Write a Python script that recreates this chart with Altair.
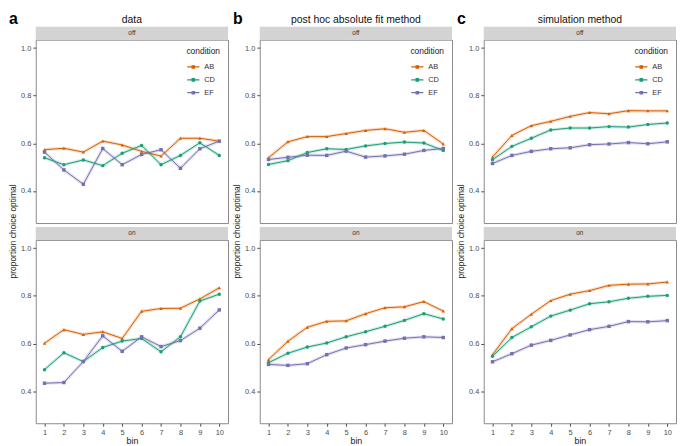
import altair as alt
import pandas as pd

bins = [1, 2, 3, 4, 5, 6, 7, 8, 9, 10]
conditions = ["AB", "CD", "EF"]
colors = ["#D95F02", "#1B9E77", "#7570B3"]
shapes = ["triangle-up", "circle", "square"]

column_titles = ["data", "post hoc absolute fit method", "simulation method"]
panel_letters = ["a", "b", "c"]
strip_labels = ["off", "on"]
y_title = "proportion choice optimal"
x_title = "bin"

# data (a)
data_off_AB = [0.573, 0.579, 0.563, 0.609, 0.593, 0.566, 0.546, 0.621, 0.621, 0.609]
data_off_CD = [0.539, 0.510, 0.530, 0.506, 0.558, 0.591, 0.510, 0.549, 0.602, 0.549]
data_off_EF = [0.563, 0.488, 0.428, 0.578, 0.510, 0.553, 0.573, 0.495, 0.577, 0.609]
data_on_AB = [0.601, 0.658, 0.638, 0.649, 0.621, 0.735, 0.747, 0.748, 0.787, 0.834]
data_on_CD = [0.490, 0.561, 0.524, 0.583, 0.610, 0.621, 0.565, 0.628, 0.778, 0.807]
data_on_EF = [0.433, 0.436, 0.524, 0.632, 0.567, 0.628, 0.587, 0.612, 0.664, 0.741]

# post hoc absolute fit method (b)
posthoc_off_AB = [0.539, 0.606, 0.628, 0.628, 0.641, 0.654, 0.661, 0.646, 0.654, 0.597]
posthoc_off_CD = [0.511, 0.527, 0.561, 0.577, 0.574, 0.589, 0.599, 0.605, 0.601, 0.570]
posthoc_off_EF = [0.532, 0.541, 0.550, 0.549, 0.567, 0.542, 0.547, 0.554, 0.570, 0.578]
posthoc_on_AB = [0.532, 0.609, 0.668, 0.693, 0.695, 0.725, 0.750, 0.754, 0.776, 0.736]
posthoc_on_CD = [0.519, 0.559, 0.585, 0.602, 0.628, 0.649, 0.672, 0.697, 0.725, 0.703]
posthoc_on_EF = [0.512, 0.508, 0.515, 0.553, 0.581, 0.595, 0.610, 0.622, 0.628, 0.625]

# simulation method (c)
sim_off_AB = [0.542, 0.633, 0.674, 0.692, 0.713, 0.729, 0.724, 0.737, 0.736, 0.736]
sim_off_CD = [0.531, 0.587, 0.621, 0.656, 0.664, 0.664, 0.670, 0.668, 0.679, 0.685]
sim_off_EF = [0.515, 0.549, 0.566, 0.577, 0.581, 0.594, 0.597, 0.603, 0.598, 0.606]
sim_on_AB = [0.553, 0.662, 0.723, 0.780, 0.807, 0.822, 0.844, 0.849, 0.850, 0.858]
sim_on_CD = [0.546, 0.625, 0.670, 0.715, 0.740, 0.767, 0.775, 0.790, 0.798, 0.802]
sim_on_EF = [0.523, 0.557, 0.593, 0.613, 0.636, 0.658, 0.672, 0.692, 0.691, 0.696]

columns = [
    ([data_off_AB, data_off_CD, data_off_EF], [data_on_AB, data_on_CD, data_on_EF]),
    ([posthoc_off_AB, posthoc_off_CD, posthoc_off_EF], [posthoc_on_AB, posthoc_on_CD, posthoc_on_EF]),
    ([sim_off_AB, sim_off_CD, sim_off_EF], [sim_on_AB, sim_on_CD, sim_on_EF]),
]

W = 194
H = 185
STRIP = 13
VGAP = 17
LEFT = 27
HGAP = 30
FONT = "Liberation Sans"


def make_df(series):
    rows = []
    for cond, vals in zip(conditions, series):
        for b, v in zip(bins, vals):
            rows.append({"bin": b, "value": v, "condition": cond})
    return pd.DataFrame(rows)


def panel(series, label, top, idx):
    df = make_df(series)
    base = alt.Chart(df)
    if not top:
        xaxis = alt.Axis(values=bins, title=x_title, grid=False, domain=False,
                         tickSize=3, labelFontSize=7.5, labelPadding=2,
                         titleFontSize=9, titleFontWeight="normal", titlePadding=1)
    else:
        xaxis = None
    x = alt.X("bin:Q", scale=alt.Scale(domain=[0.55, 10.45], nice=False, zero=False), axis=xaxis)
    y = alt.Y("value:Q", scale=alt.Scale(domain=[0.265, 1.035], nice=False, zero=False),
              axis=alt.Axis(values=[0.4, 0.6, 0.8, 1.0], format=".1f", title=None, grid=False,
                            domain=False, tickSize=3, labelFontSize=7.5, labelPadding=2))
    if top:
        legend = alt.Legend(title="condition", orient="top-right", offset=5,
                            symbolType="M-1,0H1M-0.2,-0.2H0.2V0.2H-0.2Z",
                            symbolSize=150, symbolStrokeWidth=1.2, symbolOpacity=1,
                            titleFontSize=8.5, titleFontWeight="normal", titleColor="#222",
                            labelFontSize=7.5, labelColor="#333", rowPadding=2,
                            padding=2)
    else:
        legend = None
    color = alt.Color("condition:N", scale=alt.Scale(domain=conditions, range=colors), legend=legend)

    line = base.mark_line(strokeWidth=1).encode(x=x, y=y, color=color)
    halo = base.mark_line(strokeWidth=3.2, opacity=0.22).encode(x=x, y=y, color=color)
    pts = [
        base.transform_filter(alt.datum.condition == c).mark_point(
            filled=True, size=12, opacity=1, shape=s).encode(x=x, y=y, color=color)
        for c, s in zip(conditions, shapes)
    ]

    sdf = pd.DataFrame({"label": [label]})
    strip = alt.Chart(sdf).mark_rect(color="#d3d3d3").encode(
        x=alt.value(0), x2=alt.value(W), y=alt.value(-STRIP), y2=alt.value(0))
    stext = alt.Chart(sdf).mark_text(fontSize=6.5, color="#333").encode(
        text="label:N", x=alt.value(W / 2), y=alt.value(-STRIP / 2))
    layers = [line, halo] + pts + [strip, stext]

    if top:
        tdf = pd.DataFrame({"t": [column_titles[idx]]})
        ttl = alt.Chart(tdf).mark_text(fontSize=10.5, color="#111").encode(
            text="t:N", x=alt.value(W / 2), y=alt.value(-STRIP - 7))
        ldf = pd.DataFrame({"t": [panel_letters[idx]]})
        let = alt.Chart(ldf).mark_text(fontSize=16, fontWeight="bold", align="left",
                                       baseline="top", color="#000").encode(
            text="t:N", x=alt.value(-LEFT), y=alt.value(-STRIP - 16))
        ydf = pd.DataFrame({"t": [y_title]})
        ytxt = alt.Chart(ydf).mark_text(angle=270, fontSize=8.5, color="#222").encode(
            text="t:N", x=alt.value(-23), y=alt.value(H + VGAP / 2))
        layers += [ttl, let, ytxt]
    return alt.layer(*layers).properties(width=W, height=H)


cols = []
for i, (off_series, on_series) in enumerate(columns):
    p_off = panel(off_series, strip_labels[0], True, i)
    p_on = panel(on_series, strip_labels[1], False, i)
    col = alt.vconcat(p_off, p_on, spacing=VGAP, bounds="flush").resolve_scale(
        color="independent").resolve_legend(color="independent")
    cols.append(col)

chart = alt.hconcat(*cols, spacing=HGAP - LEFT).resolve_scale(
    color="independent").resolve_legend(color="independent")

chart = chart.configure(font=FONT, padding=0).configure_view(
    stroke="#8a8a8a", strokeWidth=1).configure_axis(
    labelColor="#4d4d4d", tickColor="#4d4d4d", titleColor="#222", labelFont=FONT, titleFont=FONT)

chart.save("out.html", embed_options={"renderer": "svg", "actions": False})
